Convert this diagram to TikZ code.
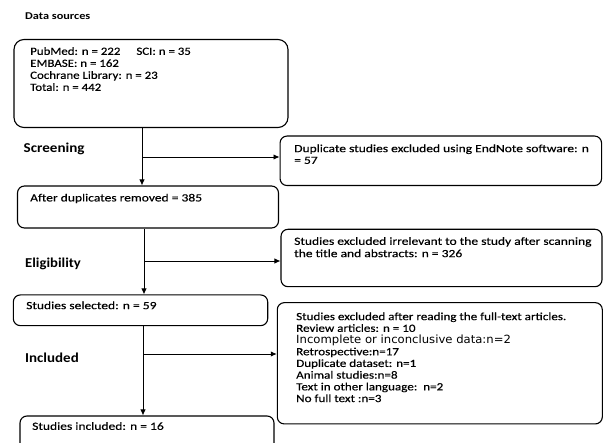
\documentclass[tikz,border=0pt]{standalone}
\usepackage{fontspec}
\usepackage{graphicx}
\setmainfont{Carlito}
\newfontfamily\bodyA[FakeStretch=1.17,FakeBold=0.3]{Carlito}
\newfontfamily\bodyB[FakeStretch=1.23,FakeBold=0.3]{Carlito}
\newfontfamily\bodyC[FakeStretch=1.19,FakeBold=0.3]{Carlito}
\newfontfamily\verd[FakeStretch=1.03]{DejaVu Sans}
\usetikzlibrary{arrows.meta}
\tikzset{
  box/.style={draw, line width=1.1pt, rounded corners=7pt, inner sep=0pt},
  txt/.style={anchor=north west, inner sep=0pt, align=left},
  stage/.style={anchor=west, inner sep=0pt, font=\bfseries\fontsize{13.6}{15}\selectfont},
  arr/.style={line width=0.9pt, -{Latex[length=6pt,width=5.5pt]}}
}
\begin{document}
\begin{tikzpicture}[x=1pt,y=-1pt]
\useasboundingbox[fill=white] (0,0) rectangle (603,443);
\clip (0,0) rectangle (603,443);
% boxes
\node[box, rounded corners=10pt, minimum width=274pt, minimum height=88pt] (b1) at (151,83.5) {};
\node[box, minimum width=261pt, minimum height=42pt] (b2) at (148,207) {};
\node[box, minimum width=321.5pt, minimum height=49.5pt] (b3) at (440.8,160.8) {};
\node[box, minimum width=321pt, minimum height=57.4pt] (b4) at (441.5,258) {};
\node[box, minimum width=254.4pt, minimum height=30.7pt] (b5) at (140.5,310.3) {};
\node[box, minimum width=325pt, minimum height=121.3pt] (b6) at (439.8,363.3) {};
\node[box, minimum width=254pt, minimum height=60pt] (b7) at (147,446) {};
% texts
\node[anchor=west, inner sep=0pt, font=\bfseries\fontsize{10.4}{12}\selectfont] (ds) at (25,15.7) {\scalebox{1.18}[1]{Data sources}};
\node[stage] (sc) at (23.5,149.3) {\scalebox{1.11}[1]{Screening}};
\node[stage] (el) at (25,264.3) {\scalebox{1.08}[1]{Eligibility}};
\node[stage] (in) at (25,357.3) {\scalebox{1.1}[1]{Included}};
\node[txt, font=\bodyA\fontsize{11}{12}\selectfont] (t1) at (30,47) {PubMed: n = 222\hspace{16pt}SCI: n = 35\\EMBASE: n = 162\\Cochrane Library: n = 23\\Total: n = 442};
\node[txt, font=\bodyB\fontsize{11}{12}\selectfont] (t2) at (30,193.6) {After duplicates removed = 385};
\node[txt, font=\bodyB\fontsize{11}{11.7}\selectfont] (t3) at (294,144.3) {Duplicate studies excluded using EndNote software: n\\= 57};
\node[txt, font=\bodyB\fontsize{11}{12.3}\selectfont] (t4) at (294,237) {Studies excluded irrelevant to the study after scanning\\the title and abstracts: n = 326};
\node[txt, font=\bodyB\fontsize{11}{12}\selectfont] (t5) at (26,301.3) {Studies selected: n = 59};
\node[txt, font=\bodyC\fontsize{11}{11.7}\selectfont] (t6) at (296,312.3) {Studies excluded after reading the full-text articles.\\Review articles: n = 10\\{\verd\fontsize{11.3}{11.7}\selectfont Incomplete or inconclusive data:n=2}\\Retrospective:n=17\\Duplicate dataset: n=1\\Animal studies:n=8\\Text in other language:\ \ n=2\\No full text :n=3};
\node[txt, font=\bodyB\fontsize{11}{12}\selectfont] (t7) at (32,422) {Studies included: n = 16};
% connectors
\coordinate (c1) at (142,157);
\coordinate (c2) at (144,261);
\coordinate (c3) at (143,354);
\draw[arr] (b1.south -| c1) -- (b2.north -| c1);
\draw[arr] (c1) -- (c1 -| b3.west);
\draw[arr] (b2.south -| c2) -- (b5.north -| c2);
\draw[arr] (c2) -- (c2 -| b4.west);
\draw[arr] (b5.south -| c3) -- (b7.north -| c3);
\draw[arr] (c3) -- (c3 -| b6.west);
\end{tikzpicture}
\end{document}
